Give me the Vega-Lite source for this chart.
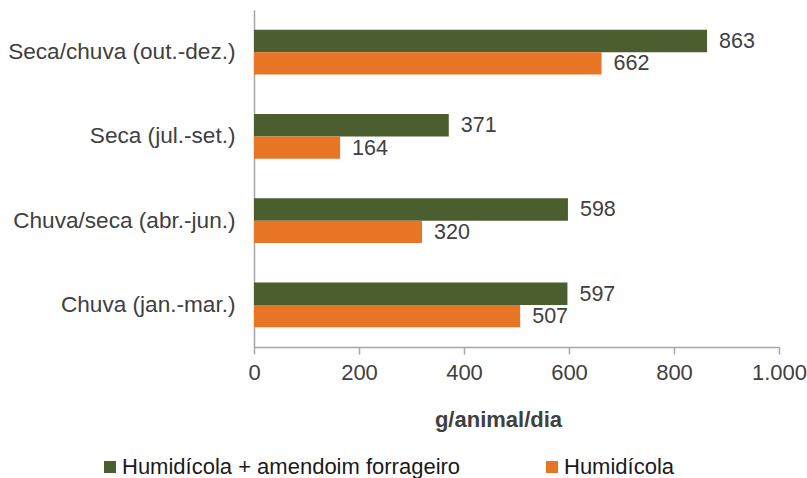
{
  "$schema": "https://vega.github.io/schema/vega-lite/v6.json",
  "width": 525,
  "height": 337,
  "autosize": {"type": "none"},
  "padding": {"left": 254, "top": 10, "right": 28, "bottom": 131},
  "background": "white",
  "config": {
    "font": "Liberation Sans",
    "view": {"stroke": null}
  },
  "data": {
    "values": [
      {"periodo": "Seca/chuva (out.-dez.)", "pasto": "Humidícola + amendoim forrageiro", "ganho": 863},
      {"periodo": "Seca/chuva (out.-dez.)", "pasto": "Humidícola", "ganho": 662},
      {"periodo": "Seca (jul.-set.)", "pasto": "Humidícola + amendoim forrageiro", "ganho": 371},
      {"periodo": "Seca (jul.-set.)", "pasto": "Humidícola", "ganho": 164},
      {"periodo": "Chuva/seca (abr.-jun.)", "pasto": "Humidícola + amendoim forrageiro", "ganho": 598},
      {"periodo": "Chuva/seca (abr.-jun.)", "pasto": "Humidícola", "ganho": 320},
      {"periodo": "Chuva (jan.-mar.)", "pasto": "Humidícola + amendoim forrageiro", "ganho": 597},
      {"periodo": "Chuva (jan.-mar.)", "pasto": "Humidícola", "ganho": 507}
    ]
  },
  "encoding": {
    "y": {
      "field": "periodo",
      "type": "nominal",
      "sort": ["Seca/chuva (out.-dez.)", "Seca (jul.-set.)", "Chuva/seca (abr.-jun.)", "Chuva (jan.-mar.)"],
      "scale": {"paddingInner": 0.47, "paddingOuter": 0.235},
      "axis": {
        "title": null,
        "ticks": false,
        "domainColor": "#a6a6a6",
        "domainWidth": 1.5,
        "labelFontSize": 22.6,
        "labelColor": "#404040",
        "labelPadding": 19,
        "labelLimit": 300
      }
    },
    "yOffset": {
      "field": "pasto",
      "type": "nominal",
      "sort": ["Humidícola + amendoim forrageiro", "Humidícola"]
    },
    "x": {
      "field": "ganho",
      "type": "quantitative",
      "scale": {"domain": [0, 1000], "nice": false},
      "axis": {
        "title": "g/animal/dia",
        "titleFontSize": 22,
        "titleFontWeight": "bold",
        "titleColor": "#404040",
        "titlePadding": 26,
        "titleAnchor": "start",
        "titleAlign": "center",
        "titleX": 244,
        "values": [0, 200, 400, 600, 800, 1000],
        "labelExpr": "replace(datum.label, ',', '.')",
        "labelFlush": false,
        "labelFontSize": 22,
        "labelColor": "#404040",
        "labelPadding": 8,
        "grid": false,
        "tickSize": 7,
        "tickColor": "#a6a6a6",
        "tickWidth": 1.5,
        "domainColor": "#a6a6a6",
        "domainWidth": 1.5
      }
    },
    "color": {
      "field": "pasto",
      "type": "nominal",
      "sort": ["Humidícola + amendoim forrageiro", "Humidícola"],
      "scale": {
        "domain": ["Humidícola + amendoim forrageiro", "Humidícola"],
        "range": ["#4b5e2f", "#e87425"]
      },
      "legend": {
        "title": null,
        "orient": "none",
        "legendX": -155,
        "legendY": 446,
        "direction": "horizontal",
        "symbolType": "square",
        "symbolSize": 144,
        "symbolStrokeWidth": 0,
        "labelFontSize": 22,
        "labelColor": "#1a1a1a",
        "labelOffset": 1,
        "labelLimit": 500,
        "columnPadding": 80
      }
    }
  },
  "layer": [
    {"mark": {"type": "bar"}},
    {
      "mark": {"type": "text", "align": "left", "baseline": "middle", "dx": 12, "dy": 1, "fontSize": 21.5, "color": "#404040"},
      "encoding": {
        "text": {"field": "ganho", "type": "quantitative"},
        "color": {"value": "#404040"}
      }
    }
  ]
}
